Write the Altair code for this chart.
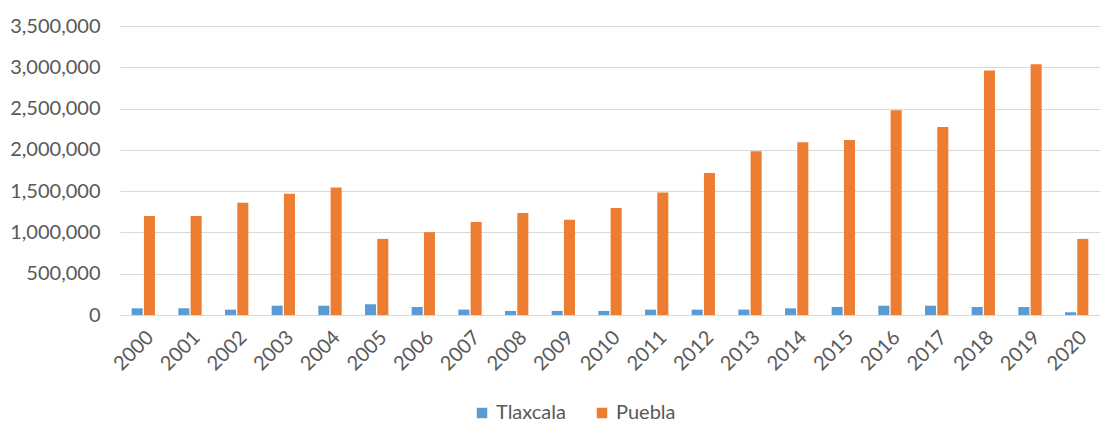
import altair as alt
import pandas as pd

years = [str(y) for y in range(2000, 2021)]
tlaxcala = [81000, 81000, 65000, 113000, 113000, 130000, 97000, 65000, 49000, 49000,
            49000, 65000, 65000, 65000, 81000, 97000, 113000, 113000, 97000, 97000, 33000]
puebla = [1200000, 1200000, 1360000, 1468000, 1545000, 922000, 1003000, 1125000, 1234000, 1153000,
          1295000, 1485000, 1719000, 1982000, 2091000, 2120000, 2480000, 2278000, 2961000, 3038000, 922000]
series = ["Tlaxcala", "Puebla"]
colors = ["#5B9BD5", "#ED7D31"]

rows = []
for i, y in enumerate(years):
    rows.append({"Año": y, "Estado": "Tlaxcala", "Valor": tlaxcala[i]})
    rows.append({"Año": y, "Estado": "Puebla", "Valor": puebla[i]})
df = pd.DataFrame(rows)

FONT = "Lato"
GRAY = "#595959"

chart = alt.Chart(df).mark_bar().encode(
    x=alt.X("Año:N", sort=years, title=None,
            scale=alt.Scale(paddingInner=0.5, paddingOuter=0.25),
            axis=alt.Axis(labelAngle=-45, domain=False, ticks=False, tickSize=0,
                          labelPadding=12, labelFontSize=20, labelColor=GRAY, labelFont=FONT)),
    xOffset=alt.XOffset("Estado:N", sort=series, scale=alt.Scale(paddingInner=0.1)),
    y=alt.Y("Valor:Q", title=None,
            scale=alt.Scale(domain=[0, 3500000]),
            axis=alt.Axis(values=[0, 500000, 1000000, 1500000, 2000000, 2500000, 3000000, 3500000],
                          format=",.0f", domain=False, ticks=False, tickSize=0, labelPadding=20,
                          labelFontSize=20, labelColor=GRAY, labelFont=FONT,
                          gridColor="#D9D9D9", gridWidth=1)),
    color=alt.Color("Estado:N", sort=series,
                    scale=alt.Scale(domain=series, range=colors),
                    legend=alt.Legend(title=None, orient="none", direction="horizontal",
                                      legendX=352, legendY=377, symbolType="square",
                                      symbolSize=110, symbolStrokeWidth=0,
                                      labelFontSize=20, labelColor=GRAY, labelFont=FONT,
                                      columnPadding=26, labelOffset=4)),
).properties(
    width=980, height=289,
    padding={"left": 112, "top": 18, "right": 0, "bottom": 111},
    autosize=alt.AutoSizeParams(type="none"),
).configure_view(stroke=None)

chart.save("out.html", embed_options={"renderer": "svg", "actions": False})
